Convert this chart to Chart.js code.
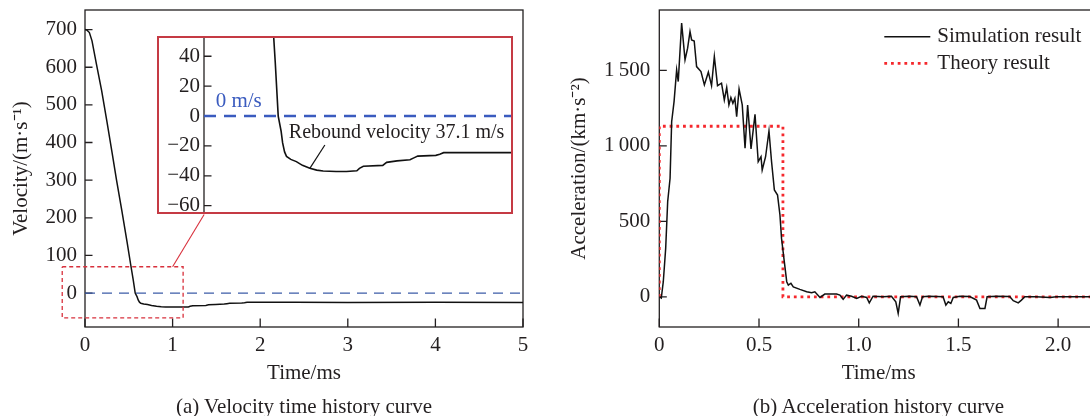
<!DOCTYPE html>
<html>
<head>
<meta charset="utf-8">
<script src="https://cdn.jsdelivr.net/npm/chart.js@4.4.1/dist/chart.umd.min.js"></script>
<style>
  html, body { margin: 0; padding: 0; background: #fff; }
  body { width: 1090px; height: 416px; position: relative; overflow: hidden; }
  canvas { display: block; }
  #velWrap { position: absolute; left: 0; top: 0; }
  #accWrap { position: absolute; left: 545px; top: 0; }
  #insetWrap { position: absolute; left: 157px; top: 36px; border: 2px solid #c53a44; background: #fff; }
  .caption { position: absolute; top: 396px; font: 21px/21px "Liberation Serif", "Times New Roman", serif; color: #231f20; text-align: center; white-space: nowrap; }
</style>
</head>
<body>
<div id="velWrap"><canvas id="velChart" width="545" height="416"></canvas></div>
<div id="insetWrap"><canvas id="insetChart" width="352" height="174"></canvas></div>
<div id="accWrap"><canvas id="accChart" width="560" height="416"></canvas></div>
<div class="caption" style="left:85px;width:438px;">(a) Velocity time history curve</div>
<div class="caption" style="left:659px;width:439px;">(b) Acceleration history curve</div>

<script>
// velocity history (ms, m/s)
const velTime = [0, 0.02, 0.05, 0.08, 0.13, 0.19, 0.25, 0.31, 0.36, 0.42,
  0.48, 0.52, 0.55, 0.573, 0.595, 0.607, 0.622, 0.637, 0.67, 0.713,
  0.76, 0.817, 0.87, 0.92, 1.02, 1.1, 1.18, 1.2, 1.23, 1.38,
  1.41, 1.49, 1.59, 1.62, 1.65, 1.79, 1.82, 1.85, 2.4, 3,
  4, 5];
const velValue = [700, 699, 692, 670, 609, 538, 456, 372, 300, 220,
  136, 78, 36, 0, -10, -18, -24, -27, -29, -30.5,
  -33, -35, -36.2, -36.8, -37.1, -37.1, -36.6, -35, -33.6, -33,
  -31, -30, -29.2, -28, -26.8, -26.3, -25.5, -24.5, -24.5, -24.6,
  -24.5, -24.6];

// acceleration history (ms, km/s^2)
const accTime = [0, 0.01, 0.02, 0.032, 0.042, 0.054, 0.062, 0.074, 0.087, 0.095,
  0.112, 0.129, 0.142, 0.154, 0.162, 0.175, 0.187, 0.209, 0.226, 0.246,
  0.262, 0.276, 0.292, 0.312, 0.326, 0.338, 0.349, 0.359, 0.369, 0.379,
  0.388, 0.4, 0.416, 0.43, 0.443, 0.46, 0.48, 0.496, 0.51, 0.516,
  0.533, 0.55, 0.563, 0.577, 0.593, 0.605, 0.613, 0.627, 0.639, 0.647,
  0.66, 0.672, 0.705, 0.739, 0.764, 0.78, 0.806, 0.83, 0.889, 0.906,
  0.922, 0.939, 0.964, 0.99, 1.014, 1.04, 1.053, 1.072, 1.122, 1.164,
  1.186, 1.198, 1.21, 1.256, 1.29, 1.307, 1.32, 1.35, 1.39, 1.423,
  1.437, 1.449, 1.462, 1.474, 1.507, 1.557, 1.591, 1.608, 1.633, 1.644,
  1.69, 1.757, 1.775, 1.8, 1.816, 1.833, 1.89, 1.96, 1.99, 2.2];
const accValue = [0, -8, 100, 321, 630, 785, 1160, 1293, 1503, 1426,
  1813, 1570, 1647, 1757, 1702, 1695, 1525, 1492, 1404, 1488,
  1399, 1592, 1399, 1415, 1304, 1386, 1271, 1320, 1282, 1315,
  1194, 1377, 1271, 984, 1271, 980, 1209, 895, 928, 840,
  928, 1099, 895, 708, 674, 542, 387, 232, 100, 78,
  90, 66, 49, 33, 27, 33, -4, 18, 18, 11,
  -17, 11, 4, -11, 4, -4, -40, 4, 0, 4,
  -33, -110, 0, 4, 0, -55, 0, 4, 2, 0,
  -55, -33, -44, -4, 4, 2, -22, -77, -77, 0,
  4, 2, -26, -40, -22, 0, 0, -4, 0, 0];

// theoretical constant-deceleration pulse
const theoryTime = [0, 0, 0.62, 0.62, 2.2];
const theoryValue = [0, 1130, 1130, 0, 0];

// zoomed window shown in the inset (ms, m/s)
const zoomBoxTime = [-0.26, 1.12, 1.12, -0.26, -0.26];
const zoomBoxValue = [70, 70, -66, -66, 70];
const connectorTime = [1.0, 1.36];
const connectorValue = [70, 209];
const leaderTime = [0.817, 0.933];
const leaderValue = [-35, -19.4];

// ticks
const velXTicks = [0, 1, 2, 3, 4, 5];
const velXLabels = ['0', '1', '2', '3', '4', '5'];
const velYTicks = [0, 100, 200, 300, 400, 500, 600, 700];
const velYLabels = ['0', '100', '200', '300', '400', '500', '600', '700'];
const insetYTicks = [-60, -40, -20, 0, 20, 40];
const insetYLabels = ['\u221260', '\u221240', '\u221220', '0', '20', '40'];
const accXTicks = [0, 0.5, 1, 1.5, 2];
const accXLabels = ['0', '0.5', '1.0', '1.5', '2.0'];
const accYTicks = [0, 500, 1000, 1500];
const accYLabels = ['0', '500', '1\u2009000', '1\u2009500'];

const INK = '#231f20';
const FONT = '"Liberation Serif", "Times New Roman", serif';
Chart.defaults.font.family = FONT;
Chart.defaults.color = INK;

const pts = (xs, ys) => xs.map((x, i) => ({ x: x, y: ys[i] }));

// axis frame and inward tick marks
const frameTicks = {
  id: 'frameTicks',
  beforeDatasetsDraw(chart, args, opts) {
    const { ctx, chartArea: a } = chart;
    ctx.save();
    ctx.strokeStyle = INK;
    ctx.lineWidth = 1.3;
    if (opts.box) {
      ctx.strokeRect(a.left, a.top, a.right - a.left, a.bottom - a.top);
    } else {
      ctx.beginPath();
      ctx.moveTo(a.left, a.top);
      ctx.lineTo(a.left, a.bottom);
      ctx.stroke();
    }
    ctx.beginPath();
    const xs = chart.scales.x;
    if (xs.options.display) {
      xs.ticks.forEach((t, i) => {
        const px = xs.getPixelForTick(i);
        ctx.moveTo(px, a.bottom);
        ctx.lineTo(px, a.bottom - opts.xLen);
      });
    }
    const ys = chart.scales.y;
    ys.ticks.forEach((t, i) => {
      const py = ys.getPixelForTick(i);
      ctx.moveTo(a.left, py);
      ctx.lineTo(a.left + opts.yLen, py);
    });
    ctx.stroke();
    ctx.restore();
  }
};

// text notes placed in data coordinates
const notes = {
  id: 'notes',
  afterDatasetsDraw(chart, args, opts) {
    if (!opts.items) return;
    const { ctx, scales: { x, y } } = chart;
    ctx.save();
    ctx.textAlign = 'left';
    ctx.textBaseline = 'middle';
    opts.items.forEach(n => {
      ctx.font = n.size + 'px ' + FONT;
      ctx.fillStyle = n.color;
      ctx.fillText(n.text, x.getPixelForValue(n.x), y.getPixelForValue(n.y));
    });
    ctx.restore();
  }
};

// legend drawn inside the plot, top right
const innerLegend = {
  id: 'innerLegend',
  afterDraw(chart, args, opts) {
    if (!opts.display) return;
    const { ctx, chartArea: a } = chart;
    ctx.save();
    ctx.font = '21px ' + FONT;
    ctx.textBaseline = 'middle';
    chart.data.datasets.forEach((ds, i) => {
      const y = a.top + opts.top + i * opts.gap;
      const x0 = a.left + opts.left;
      ctx.strokeStyle = ds.borderColor;
      ctx.lineWidth = ds.borderWidth;
      ctx.setLineDash(ds.borderDash || []);
      ctx.beginPath();
      ctx.moveTo(x0, y);
      ctx.lineTo(x0 + 46, y);
      ctx.stroke();
      ctx.setLineDash([]);
      ctx.fillStyle = INK;
      ctx.fillText(ds.label, x0 + 53, y);
    });
    ctx.restore();
  }
};

// linear axis with fixed ticks/labels and a fixed thickness;
// edge-label padding is dropped so the plot area stays where it is set
function tickAxis(ticks, labels, pad, size, extra) {
  return Object.assign({
    type: 'linear',
    afterBuildTicks: s => { s.ticks = ticks.map(v => ({ value: v })); },
    afterFit: s => {
      if (s.isHorizontal()) s.height = size; else s.width = size;
      s.paddingTop = s.paddingBottom = s.paddingLeft = s.paddingRight = 0;
    },
    ticks: {
      autoSkip: false,
      maxRotation: 0,
      padding: pad,
      font: { size: 21 },
      color: INK,
      callback: (v, i) => labels[i]
    },
    grid: { display: false, drawTicks: false },
    border: { display: false }
  }, extra);
}

function axisTitle(text, pad) {
  return { display: true, text: text, color: INK, font: { size: 21 }, padding: pad };
}

const baseOptions = {
  responsive: false,
  animation: false,
  events: [],
  elements: { point: { radius: 0 }, line: { tension: 0 } }
};
const hidden = { legend: { display: false }, tooltip: { enabled: false } };

new Chart(document.getElementById('velChart'), {
  type: 'line',
  data: {
    datasets: [
      { data: pts([0, 5], [0, 0]), borderColor: '#3c5ca8', borderWidth: 1.3, borderDash: [10, 7] },
      { data: pts(zoomBoxTime, zoomBoxValue), borderColor: '#d8303c', borderWidth: 1.3, borderDash: [4, 3], clip: false },
      { data: pts(connectorTime, connectorValue), borderColor: '#d8303c', borderWidth: 1.1, clip: false },
      { data: pts(velTime, velValue), borderColor: '#111', borderWidth: 1.5 }
    ]
  },
  options: Object.assign({}, baseOptions, {
    layout: { padding: { left: 0, right: 22, top: 10, bottom: 0 } },
    scales: {
      x: tickAxis(velXTicks, velXLabels, 6, 89, {
        min: 0, max: 5,
        title: axisTitle('Time/ms', { top: 0, bottom: 30 })
      }),
      y: tickAxis(velYTicks, velYLabels, 8, 85, {
        min: -90, max: 752,
        title: axisTitle('Velocity/(m\u00b7s\u207b\u00b9)', { top: 9, bottom: 0 })
      })
    },
    plugins: Object.assign({}, hidden, {
      frameTicks: { box: true, xLen: 8.5, yLen: 7.5 }
    })
  }),
  plugins: [frameTicks]
});

new Chart(document.getElementById('insetChart'), {
  type: 'line',
  data: {
    datasets: [
      { data: pts([0, 2.37], [0, 0]), borderColor: '#3a5bbf', borderWidth: 2.6, borderDash: [12, 8] },
      { data: pts(leaderTime, leaderValue), borderColor: '#111', borderWidth: 1.2 },
      { data: pts(velTime, velValue), borderColor: '#111', borderWidth: 1.6 }
    ]
  },
  options: Object.assign({}, baseOptions, {
    layout: { padding: 0 },
    scales: {
      x: { type: 'linear', display: false, min: 0, max: 2.37 },
      y: tickAxis(insetYTicks, insetYLabels, 4, 45, { min: -64.2, max: 52.2 })
    },
    plugins: Object.assign({}, hidden, {
      frameTicks: { box: false, xLen: 0, yLen: 7.5 },
      notes: {
        items: [
          { text: '0 m/s', x: 0.09, y: 9.6, size: 21, color: '#3a5bbf' },
          { text: 'Rebound velocity 37.1 m/s', x: 0.655, y: -11.4, size: 20, color: INK }
        ]
      }
    })
  }),
  plugins: [frameTicks, notes]
});

new Chart(document.getElementById('accChart'), {
  type: 'line',
  data: {
    datasets: [
      { label: 'Simulation result', data: pts(accTime, accValue), borderColor: '#111', borderWidth: 1.5 },
      { label: 'Theory result', data: pts(theoryTime, theoryValue), borderColor: '#f5282d', borderWidth: 2.8, borderDash: [2.8, 3.9] }
    ]
  },
  options: Object.assign({}, baseOptions, {
    layout: { padding: { left: 0, right: 7, top: 10, bottom: 0 } },
    scales: {
      x: tickAxis(accXTicks, accXLabels, 6, 89, {
        min: 0, max: 2.2,
        title: axisTitle('Time/ms', { top: 0, bottom: 30 })
      }),
      y: tickAxis(accYTicks, accYLabels, 9, 114.3, {
        min: -200, max: 1900,
        title: axisTitle('Acceleration/(km\u00b7s\u207b\u00b2)', { top: 22, bottom: 0 })
      })
    },
    plugins: Object.assign({}, hidden, {
      frameTicks: { box: true, xLen: 8.5, yLen: 7.5 },
      innerLegend: { display: true, left: 225, top: 26.7, gap: 26.6 }
    })
  }),
  plugins: [frameTicks, innerLegend]
});
</script>
</body>
</html>
